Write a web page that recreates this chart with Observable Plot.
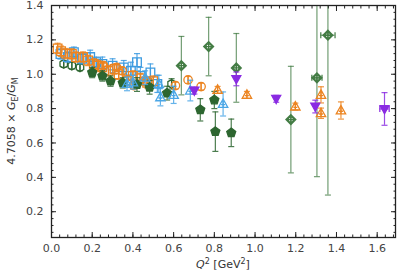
<!DOCTYPE html>
<html><head><meta charset="utf-8">
<script src="https://cdn.jsdelivr.net/npm/d3@7"></script>
<script src="https://cdn.jsdelivr.net/npm/@observablehq/plot@0.6"></script>
<style>body{margin:0;background:#fff} svg{display:block}</style>
</head><body><div id="chart"></div>
<script>
// ---- axis ticks ----
const xTicks = [0.0, 0.2, 0.4, 0.6, 0.8, 1.0, 1.2, 1.4, 1.6];
const yTicks = [0.2, 0.4, 0.6, 0.8, 1.0, 1.2, 1.4];

// ---- series: orange open squares ----
const qOrSq = [0.03, 0.047, 0.07, 0.10, 0.12, 0.155, 0.18, 0.208, 0.23, 0.249, 0.28, 0.31, 0.33, 0.37, 0.40, 0.437, 0.47, 0.50];
const vOrSq = [1.15, 1.134, 1.12, 1.118, 1.10, 1.10, 1.08, 1.06, 1.05, 1.04, 1.02, 1.03, 1.00, 0.963, 0.99, 0.975, 0.95, 0.96];
const eOrSq = [0.03, 0.03, 0.03, 0.03, 0.03, 0.03, 0.03, 0.03, 0.03, 0.03, 0.03, 0.03, 0.03, 0.03, 0.03, 0.03, 0.03, 0.03];

// ---- series: blue open squares ----
const qBlSq = [0.044, 0.08, 0.11, 0.15, 0.19, 0.22, 0.25, 0.30, 0.355, 0.39, 0.42, 0.437, 0.486, 0.52];
const vBlSq = [1.118, 1.10, 1.128, 1.09, 1.10, 1.07, 1.06, 1.05, 1.04, 1.02, 1.07, 0.99, 1.01, 0.944];
const eBlSq = [0.03, 0.03, 0.03, 0.03, 0.04, 0.03, 0.04, 0.04, 0.04, 0.05, 0.05, 0.05, 0.05, 0.05];

// ---- series: dark green open hexagons ----
const qGrHex = [0.06, 0.10, 0.14, 0.59];
const vGrHex = [1.06, 1.05, 1.04, 0.944];
const eGrHex = [0.02, 0.02, 0.02, 0.03];

// ---- series: dark green filled pentagons ----
const qGrPent = [0.20, 0.25, 0.29, 0.35, 0.42, 0.482, 0.568, 0.731, 0.80, 0.805, 0.883];
const vGrPent = [1.01, 0.99, 0.96, 0.95, 0.94, 0.924, 0.89, 0.793, 0.85, 0.666, 0.659];
const eGrPent = [0.03, 0.03, 0.03, 0.03, 0.04, 0.04, 0.04, 0.065, 0.05, 0.115, 0.08];

// ---- series: orange open circles ----
const qOrCi = [0.256, 0.32, 0.347, 0.404, 0.45, 0.609, 0.671, 0.735];
const vOrCi = [1.05, 1.04, 1.02, 0.934, 0.96, 0.934, 0.967, 0.928];
const eOrCi = [0.02, 0.02, 0.02, 0.02, 0.02, 0.02, 0.02, 0.02];

// ---- series: blue triangles ----
const qBlTri = [0.371, 0.40, 0.46, 0.527, 0.535, 0.60, 0.682, 0.843];
const vBlTri = [0.944, 0.953, 0.98, 0.944, 0.866, 0.88, 0.905, 0.827];
const eBlTri = [0.04, 0.04, 0.04, 0.05, 0.05, 0.05, 0.06, 0.07];

// ---- series: orange open triangles ----
const qOrTri = [0.816, 0.96, 1.198, 1.324, 1.324, 1.422];
const vOrTri = [0.909, 0.88, 0.812, 0.88, 0.773, 0.789];
const eOrTri = [0.02, 0.02, 0.02, 0.047, 0.03, 0.05];

// ---- series: purple down triangles ----
const qPuTri = [0.702, 0.908, 1.104, 1.296, 1.636];
const vPuTri = [0.905, 0.973, 0.857, 0.812, 0.798];
const ePuTri = [0.02, 0.04, 0.02, 0.037, 0.095];
const xePuTri = [0, 0, 0, 0, 0.023];

// ---- series: green open diamonds ----
const qGrDia = [0.638, 0.772, 0.908, 1.176, 1.304, 1.358];
const vGrDia = [1.05, 1.161, 1.037, 0.736, 0.979, 1.227];
const eGrDia = [0.17, 0.17, 0.2, 0.31, 0.575, 0.93];
const xeGrDia = [0, 0, 0, 0, 0.025, 0.035];

// ---- symbols ----
const R = s => Math.sqrt(s / Math.PI);
const symSquare = {draw(c, s){const r = R(s) * 0.9; c.moveTo(-r,-r); c.lineTo(r,-r); c.lineTo(r,r); c.lineTo(-r,r); c.closePath(); c.moveTo(0,-r); c.lineTo(0,r);}};
const symCircle = {draw(c, s){const r = R(s); c.moveTo(r,0); c.arc(0,0,r,0,2*Math.PI); c.moveTo(0,-r); c.lineTo(0,r);}};
const symHex = {draw(c, s){const r = R(s); for (let k=0;k<6;k++){const a=Math.PI/6+k*Math.PI/3; const x=r*Math.cos(a), y=r*Math.sin(a); k?c.lineTo(x,y):c.moveTo(x,y);} c.closePath(); c.moveTo(0,-r); c.lineTo(0,r);}};
const symTriUp = {draw(c, s){const r = R(s)*1.1; c.moveTo(0,-r); c.lineTo(r*0.95,r*0.7); c.lineTo(-r*0.95,r*0.7); c.closePath(); c.moveTo(0,-r*0.6); c.lineTo(0,r*0.7); c.moveTo(-r*0.4,r*0.15); c.lineTo(r*0.4,r*0.15);}};
const symTriDown = {draw(c, s){const r = R(s)*1.1; c.moveTo(0,r); c.lineTo(r*0.95,-r*0.7); c.lineTo(-r*0.95,-r*0.7); c.closePath();}};
const symPent = {draw(c, s){const r = R(s)*1.05; for (let k=0;k<5;k++){const a=-Math.PI/2+k*2*Math.PI/5; const x=r*Math.cos(a), y=r*Math.sin(a); k?c.lineTo(x,y):c.moveTo(x,y);} c.closePath();}};
const symDia = {draw(c, s){const r = R(s)*1.15; c.moveTo(0,-r); c.lineTo(r,0); c.lineTo(0,r); c.lineTo(-r,0); c.closePath(); c.moveTo(r*0.55,0); c.arc(0,0,r*0.55,0,2*Math.PI); c.moveTo(-r,0); c.lineTo(r,0); c.moveTo(0,-r); c.lineTo(0,r);}};
const symCapH = {draw(c){c.moveTo(-3,0); c.lineTo(3,0);}};
const symCapV = {draw(c){c.moveTo(0,-3); c.lineTo(0,3);}};

function table(q, v, e, xe) { return q.map((d, i) => ({q: d, v: v[i], e: e[i], xe: xe ? xe[i] : 0})); }

function series(data, color, symbol, filled, r, op = 0.85) {
  const hx = data.filter(d => d.xe > 0);
  return [
    Plot.ruleX(data, {x: "q", y1: d => d.v - d.e, y2: d => d.v + d.e, stroke: color, strokeWidth: 1.2, strokeOpacity: op, clip: true}),
    Plot.dot(data, {x: "q", y: d => d.v - d.e, symbol: symCapH, stroke: color, strokeWidth: 1.2, strokeOpacity: op, clip: true}),
    Plot.dot(data, {x: "q", y: d => d.v + d.e, symbol: symCapH, stroke: color, strokeWidth: 1.2, strokeOpacity: op, clip: true}),
    Plot.ruleY(hx, {y: "v", x1: d => d.q - d.xe, x2: d => d.q + d.xe, stroke: color, strokeWidth: 1.2, strokeOpacity: op, clip: true}),
    Plot.dot(hx, {x: d => d.q - d.xe, y: "v", symbol: symCapV, stroke: color, strokeWidth: 1.2, clip: true}),
    Plot.dot(hx, {x: d => d.q + d.xe, y: "v", symbol: symCapV, stroke: color, strokeWidth: 1.2, clip: true}),
    Plot.dot(data, {x: "q", y: "v", symbol, r, stroke: color, fill: filled ? color : "none", strokeWidth: 1.3, clip: true})
  ];
}

const ORANGE = "#ec8420", BLUE = "#3d9be0", LBLUE = "#4aa6e6", DGREEN = "#2d6630", GREEN = "#437c44", PURPLE = "#8a2be2";
const fmt = d => d.toFixed(1);
const xMinor = d3.range(0, 1.69, 0.04);
const yMinor = d3.range(0.08, 1.4, 0.04);

const plot = Plot.plot({
  width: 399, height: 275,
  marginLeft: 51, marginRight: 4, marginTop: 5, marginBottom: 38,
  style: {fontFamily: "DejaVu Sans", fontSize: "11px", color: "#444", background: "#fff"},
  x: {domain: [0, 1.69], label: null},
  y: {domain: [0.05, 1.4], label: null},
  marks: [
    ...series(table(qGrDia, vGrDia, eGrDia, xeGrDia), GREEN, symDia, false, 4.3, 0.75),
    ...series(table(qGrHex, vGrHex, eGrHex), DGREEN, symHex, false, 4.3),
    ...series(table(qBlSq, vBlSq, eBlSq), BLUE, symSquare, false, 4.8),
    ...series(table(qOrSq, vOrSq, eOrSq), ORANGE, symSquare, false, 4.8),
    ...series(table(qOrCi, vOrCi, eOrCi), ORANGE, symCircle, false, 4.2),
    ...series(table(qGrPent, vGrPent, eGrPent), DGREEN, symPent, true, 4.5),
    ...series(table(qBlTri, vBlTri, eBlTri), LBLUE, symTriUp, false, 4.5),
    ...series(table(qOrTri, vOrTri, eOrTri), ORANGE, symTriUp, false, 4.5),
    ...series(table(qPuTri, vPuTri, ePuTri, xePuTri), PURPLE, symTriDown, true, 4.3),
    Plot.frame({stroke: "#222", strokeWidth: 1.3}),
    Plot.axisX(xTicks, {anchor: "bottom", tickSize: -5, tickPadding: 12, tickFormat: fmt, label: null, stroke: "#222"}),
    Plot.axisX(xTicks, {anchor: "top", tickSize: -5, tickFormat: () => "", label: null, stroke: "#222"}),
    Plot.axisX(xMinor, {anchor: "bottom", tickSize: -2.5, tickFormat: () => "", label: null, stroke: "#222"}),
    Plot.axisX(xMinor, {anchor: "top", tickSize: -2.5, tickFormat: () => "", label: null, stroke: "#222"}),
    Plot.axisY(yTicks, {anchor: "left", tickSize: -5, tickPadding: 13, tickFormat: fmt, label: null, stroke: "#222"}),
    Plot.axisY(yTicks, {anchor: "right", tickSize: -5, tickFormat: () => "", label: null, stroke: "#222"}),
    Plot.axisY(yMinor, {anchor: "left", tickSize: -2.5, tickFormat: () => "", label: null, stroke: "#222"}),
    Plot.axisY(yMinor, {anchor: "right", tickSize: -2.5, tickFormat: () => "", label: null, stroke: "#222"})
  ]
});

const svg = d3.select(plot);
// x label
const xl = svg.append("text").attr("x", 223).attr("y", 268).attr("text-anchor", "middle")
  .attr("font-family", "DejaVu Sans").attr("font-size", 11).attr("fill", "#333");
xl.append("tspan").attr("font-style", "italic").text("Q");
xl.append("tspan").attr("font-size", 8).attr("dy", -4).text("2");
xl.append("tspan").attr("dy", 4).text(" [GeV");
xl.append("tspan").attr("font-size", 8).attr("dy", -4).text("2");
xl.append("tspan").attr("dy", 4).text("]");
// y label
const yl = svg.append("text").attr("transform", "translate(15,121) rotate(-90)").attr("text-anchor", "middle")
  .attr("font-family", "DejaVu Sans").attr("font-size", 11).attr("fill", "#333");
yl.append("tspan").text("4.7058 × ");
yl.append("tspan").attr("font-style", "italic").text("G");
yl.append("tspan").attr("font-size", 8).attr("dy", 3).text("E");
yl.append("tspan").attr("dy", -3).text("/");
yl.append("tspan").attr("font-style", "italic").text("G");
yl.append("tspan").attr("font-size", 8).attr("dy", 3).text("M");

document.getElementById("chart").append(plot);
</script>
</body></html>
